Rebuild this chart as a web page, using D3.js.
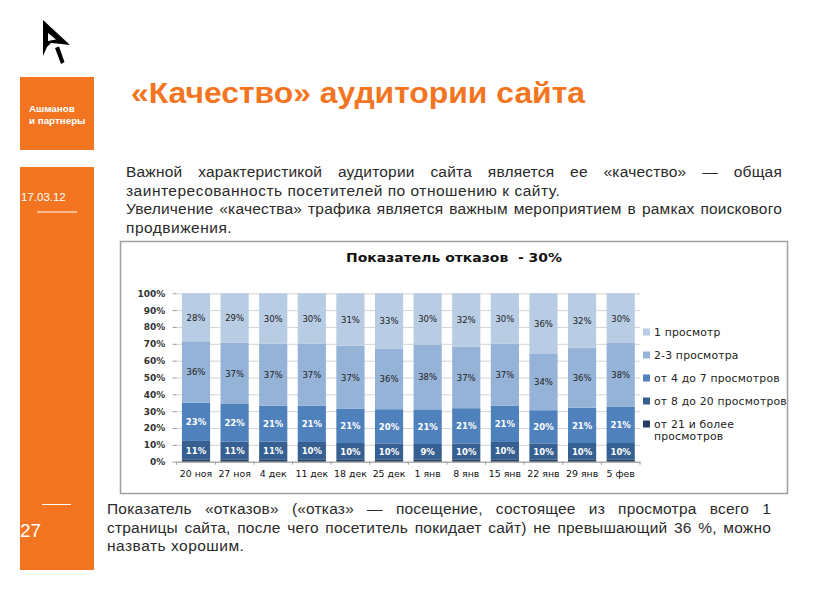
<!DOCTYPE html>
<html>
<head>
<meta charset="utf-8">
<script src="https://cdn.jsdelivr.net/npm/d3@7"></script>
<style>
  html, body { margin:0; padding:0; background:#fff; }
  #slide { position:relative; width:822px; height:595px; overflow:hidden; }
  svg { position:absolute; left:0; top:0; }
  .line { position:absolute; font-family:"Liberation Sans", Arial, sans-serif; font-size:15.5px; color:#2a2a2a; white-space:nowrap; line-height:18px; letter-spacing:0.5px; }
  .just { white-space:normal; text-align:justify; text-align-last:justify; letter-spacing:0.2px; word-spacing:-0.5px; }
</style>
</head>
<body>
<div id="slide"></div>
<script>
const categories = ['20 ноя','27 ноя','4 дек','11 дек','18 дек','25 дек','1 янв','8 янв','15 янв','22 янв','29 янв','5 фев'];
const seriesNames = ['21plus','8to20','4to7','2to3','one'];

// bottom of the stack first
const views21plus = [1.4,1.4,1.4,1.4,1.4,1.4,1.4,1.4,1.4,1.4,1.4,1.4];
const views8to20 = [10.9,10.5,10.5,10.3,9.7,9.5,9.1,9.5,10.3,9.5,9.7,9.7];
const views4to7 = [22.7,22.4,21.4,21.4,20.5,20.4,20.5,21,21.4,19.8,21,21.4];
const views2to3 = [36.3,36.5,36.8,36.8,37.4,36.2,38.4,36.8,36.8,33.9,35.6,38];
const views1 = [28.4,29.3,29.9,29.9,31.1,32.9,30.4,31.7,29.9,35.8,32.3,29.5];

const colors = ['#244062','#366092','#4f81bd','#95b3d7','#b8cce4'];
const labelColors = [null,'#fff','#fff','#222','#222'];
const legendItems = [
  {i:4, text:['1 просмотр']},
  {i:3, text:['2-3 просмотра']},
  {i:2, text:['от 4 до 7 просмотров']},
  {i:1, text:['от 8 до 20 просмотров']},
  {i:0, text:['от 21 и более','просмотров']}
];

const orange = '#f37521';
const slide = d3.select('#slide');
const svg = slide.append('svg').attr('width',822).attr('height',595);

// slide furniture
svg.append('rect').attr('x',20).attr('y',77).attr('width',74).attr('height',73).attr('fill',orange);
svg.append('rect').attr('x',20).attr('y',167).attr('width',74).attr('height',403).attr('fill',orange);
svg.append('line').attr('x1',37).attr('x2',77).attr('y1',212).attr('y2',212).attr('stroke','#fff');
svg.append('line').attr('x1',42).attr('x2',71).attr('y1',504.5).attr('y2',504.5).attr('stroke','#fff');

// logo
svg.append('path')
  .attr('d','M43 20 L70 45 L57 43.5 L51 43 L47 47 L43 56 Z M48 33 L48 41 L56 39.5 Z')
  .attr('fill','#000').attr('fill-rule','evenodd');
svg.append('path').attr('d','M55 48 L59 46.5 L64.5 62 L61 64 Z').attr('fill','#000');

const sans = '"Liberation Sans", Arial, sans-serif';
svg.append('text').attr('x',29).attr('y',112).attr('font-family',sans).attr('font-size',9.8).attr('font-weight','bold').attr('fill','#fff').text('Ашманов');
svg.append('text').attr('x',29).attr('y',124).attr('font-family',sans).attr('font-size',9.8).attr('font-weight','bold').attr('fill','#fff').text('и партнеры');
svg.append('text').attr('x',21).attr('y',201).attr('font-family',sans).attr('font-size',11.5).attr('fill','#fff').text('17.03.12');
svg.append('text').attr('x',20).attr('y',537).attr('font-family',sans).attr('font-size',19).attr('fill','#fff').text('27');
svg.append('text').attr('x',131).attr('y',103).attr('font-family',sans).attr('font-size',29)
  .attr('textLength',454).attr('lengthAdjust','spacingAndGlyphs')
  .attr('font-weight','bold').attr('fill',orange).text('«Качество» аудитории сайта');

// body text, as justified lines
const topLines = [
  ['Важной характеристикой аудитории сайта является ее «качество» — общая', true],
  ['заинтересованность посетителей по отношению к сайту.', false],
  ['Увеличение «качества» трафика является важным мероприятием в рамках поискового', true],
  ['продвижения.', false]
];
const bottomLines = [
  ['Показатель «отказов» («отказ» — посещение, состоящее из просмотра всего 1', true],
  ['страницы сайта, после чего посетитель покидает сайт) не превышающий 36 %, можно', true],
  ['назвать хорошим.', false]
];
function addLines(lines, left, width, top, step){
  slide.selectAll(null).data(lines).enter().append('div')
    .attr('class', d => d[1] ? 'line just' : 'line')
    .style('left', left+'px')
    .style('width', width+'px')
    .style('top', (d,i) => (top+i*step)+'px')
    .text(d => d[0]);
}
addLines(topLines, 126, 656, 163, 18.7);
addLines(bottomLines, 107, 664, 500, 18.6);

// chart frame
svg.append('rect').attr('x',120.5).attr('y',241.5).attr('width',667).attr('height',252)
  .attr('fill','#fff').attr('stroke','#a0a0a0').attr('stroke-width',1.5);

const chartFont = '"DejaVu Sans", Verdana, sans-serif';
svg.append('text').attr('x',346).attr('y',262)
  .attr('textLength',216).attr('lengthAdjust','spacingAndGlyphs')
  .attr('font-family',chartFont).attr('font-size',11.5).attr('font-weight','bold')
  .attr('fill','#111').text('Показатель отказов  - 30%').style('white-space','pre');

const values = [views21plus,views8to20,views4to7,views2to3,views1];
const rows = categories.map((c,i) => {
  const row = {cat:c};
  seriesNames.forEach((s,k) => row[s] = values[k][i]);
  return row;
});
const stacked = d3.stack().keys(seriesNames).offset(d3.stackOffsetExpand)(rows);

const x = d3.scaleBand().domain(categories).range([176.7,640]).paddingInner(0.27).paddingOuter(0.135);
const y = d3.scaleLinear().domain([0,1]).range([461.7,293.3]);

const gridG = svg.append('g').attr('transform','translate(176.7,0)')
  .call(d3.axisLeft(y).tickValues(d3.range(0,1.01,0.1)).tickFormat(d3.format('.0%')).tickSize(-463.3).tickPadding(11.5));
gridG.select('.domain').remove();
gridG.selectAll('.tick line').attr('stroke','#d4d4d4');
gridG.selectAll('.tick text').attr('font-family',chartFont).attr('font-size',9).attr('font-weight','bold').attr('fill','#333');
gridG.selectAll('.tick').append('line').attr('x1',-4).attr('x2',0).attr('stroke','#999');

const layers = svg.selectAll('g.layer').data(stacked).enter().append('g').attr('class','layer')
  .attr('fill',(d,i) => colors[i]);
layers.selectAll('rect').data(d => d).enter().append('rect')
  .attr('x',d => x(d.data.cat))
  .attr('width',x.bandwidth())
  .attr('y',d => y(d[1]))
  .attr('height',d => y(d[0])-y(d[1]));

layers.filter((d,i) => labelColors[i]).selectAll('text').data(d => d).enter().append('text')
  .attr('x',d => x(d.data.cat)+x.bandwidth()/2)
  .attr('y',d => (y(d[0])+y(d[1]))/2+3.5)
  .attr('text-anchor','middle')
  .attr('font-family',chartFont).attr('font-size',8.5)
  .attr('font-weight',function(){ return stacked.indexOf(d3.select(this.parentNode).datum()) < 3 ? 'bold' : 'normal'; })
  .attr('fill',function(){ return labelColors[stacked.indexOf(d3.select(this.parentNode).datum())]; })
  .text(function(d){
    const key = d3.select(this.parentNode).datum().key;
    return Math.round(d.data[key])+'%';
  });

const xAxisG = svg.append('g').attr('transform','translate(0,461.7)')
  .call(d3.axisBottom(x).tickSize(0).tickPadding(9));
xAxisG.select('.domain').attr('stroke','#999');
xAxisG.selectAll('.tick text').attr('font-family',chartFont).attr('font-size',9.4).attr('fill','#111');
xAxisG.selectAll('.sep').data(d3.range(0,13)).enter().append('line').attr('class','sep')
  .attr('x1',i => 176.7+i*x.step()).attr('x2',i => 176.7+i*x.step())
  .attr('y1',0).attr('y2',3).attr('stroke','#999');

// legend
const legendY = d3.scalePoint().domain(d3.range(5)).range([332,424]);
const legend = svg.selectAll('g.legend').data(legendItems).enter().append('g').attr('class','legend')
  .attr('transform',(d,i) => `translate(643,${legendY(i)})`);
legend.append('rect').attr('x',0).attr('y',-3.5).attr('width',7).attr('height',7).attr('fill',d => colors[d.i]);
legend.selectAll('text').data(d => d.text).enter().append('text')
  .attr('x',11).attr('y',(d,i) => 3.5+i*12)
  .attr('font-family',chartFont).attr('font-size',10.8).attr('letter-spacing',0.2).attr('fill','#222').text(d => d);
</script>
</body>
</html>
